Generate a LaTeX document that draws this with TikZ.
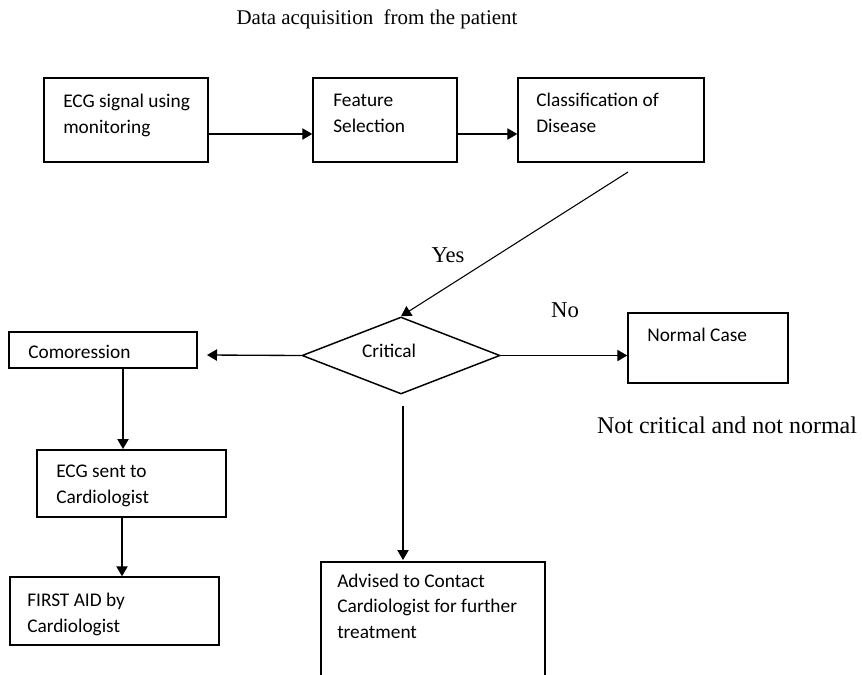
\documentclass[tikz,border=0pt]{standalone}
\usepackage{fontspec}
\usepackage{tikz}
\usetikzlibrary{shapes.geometric,arrows.meta}
\setmainfont{Liberation Serif}
\newfontfamily\boxfont{Carlito}

\tikzset{
    box/.style={draw, line width=1.1pt, inner sep=0pt},
    decision/.style={draw, diamond, aspect=2.5, line width=1.1pt, inner sep=0pt},
    % anchored at the baseline of the last line
    boxtext/.style={anchor=base west, align=left, inner sep=0pt,
        font=\boxfont\fontsize{14.5}{19.5}\selectfont},
    lbl/.style={anchor=base, inner sep=0pt, font=\fontsize{17}{20}\selectfont},
    arr/.style={-{Triangle[length=7.5pt,width=8.5pt]}, line width=1pt},
}

\begin{document}
\begin{tikzpicture}[x=0.75pt, y=-0.75pt]
    \useasboundingbox (0,0) rectangle (862,674);

    % Title
    \node[lbl, font=\fontsize{15.7}{18}\selectfont] (title) at (377,25) {Data acquisition\ \ from the patient};

    % Acquisition pipeline
    \node[box, minimum width=123pt, minimum height=63pt] (sig) at (126,120) {};
    \node[boxtext] (sigtxt) at (63,133) {ECG signal using\\monitoring};

    \node[box, minimum width=108pt, minimum height=63pt] (feat) at (385,120) {};
    \node[boxtext] (feattxt) at (333,132) {Feature\\Selection};

    \node[box, minimum width=139.5pt, minimum height=63pt] (cls) at (611,120) {};
    \node[boxtext] (clstxt) at (536,132) {Classification of\\Disease};

    \draw[arr] ([yshift=-10.5pt]sig.east) -- ([yshift=-10.5pt]feat.west);
    \draw[arr] ([yshift=-10.5pt]feat.east) -- ([yshift=-10.5pt]cls.west);

    % Decision
    \node[decision, minimum width=148.5pt, minimum height=57.75pt] (crit) at (401,355.5) {};
    \node[boxtext, anchor=base] (crittxt) at (389,357) {Critical};

    \coordinate (clsout) at (628,172);
    \draw[arr, line width=0.8pt] (clsout) -- (crit.north);
    \node[lbl] (yes) at (448,262) {Yes};

    % Normal branch
    \node[box, minimum width=120pt, minimum height=52.5pt] (norm) at (708,348) {};
    \node[boxtext] (normtxt) at (647,341) {Normal Case};
    \draw[arr] (crit.east) -- (crit.east -| norm.west);
    \node[lbl] (no) at (565,317) {No};
    \node[lbl, font=\fontsize{18}{20}\selectfont] (other) at (727,433) {Not critical and not normal};

    % Critical branch
    \node[box, minimum width=141pt, minimum height=27pt] (comp) at (103,350) {};
    \node[boxtext] (comptxt) at (28,358) {Comoression};
    \coordinate (compin) at (207,355);
    \draw[arr] (crit.west) -- (compin);

    \node[box, minimum width=141.75pt, minimum height=50.25pt] (sent) at (131.5,483.5) {};
    \node[boxtext] (senttxt) at (56,503) {ECG sent to\\Cardiologist};
    \coordinate (sentin) at (123,449);
    \draw[arr] (comp.south -| sentin) -- (sentin);

    \node[box, minimum width=156.75pt, minimum height=51pt] (aid) at (114.5,611) {};
    \node[boxtext] (aidtxt) at (27,632) {FIRST AID by\\Cardiologist};
    \draw[arr] (sent.south -| 122,0) -- (aid.north -| 122,0);

    % Not critical, not normal
    \node[box, minimum width=168pt, minimum height=87pt] (adv) at (433,620) {};
    \node[boxtext, font=\boxfont\fontsize{14.5}{19}\selectfont] (advtxt) at (337,638) {Advised to Contact\\Cardiologist for further\\treatment};
    \coordinate (critout) at (403,406);
    \coordinate (advin) at (403,560);
    \draw[arr, line width=0.8pt] (critout) -- (advin);
\end{tikzpicture}
\end{document}
